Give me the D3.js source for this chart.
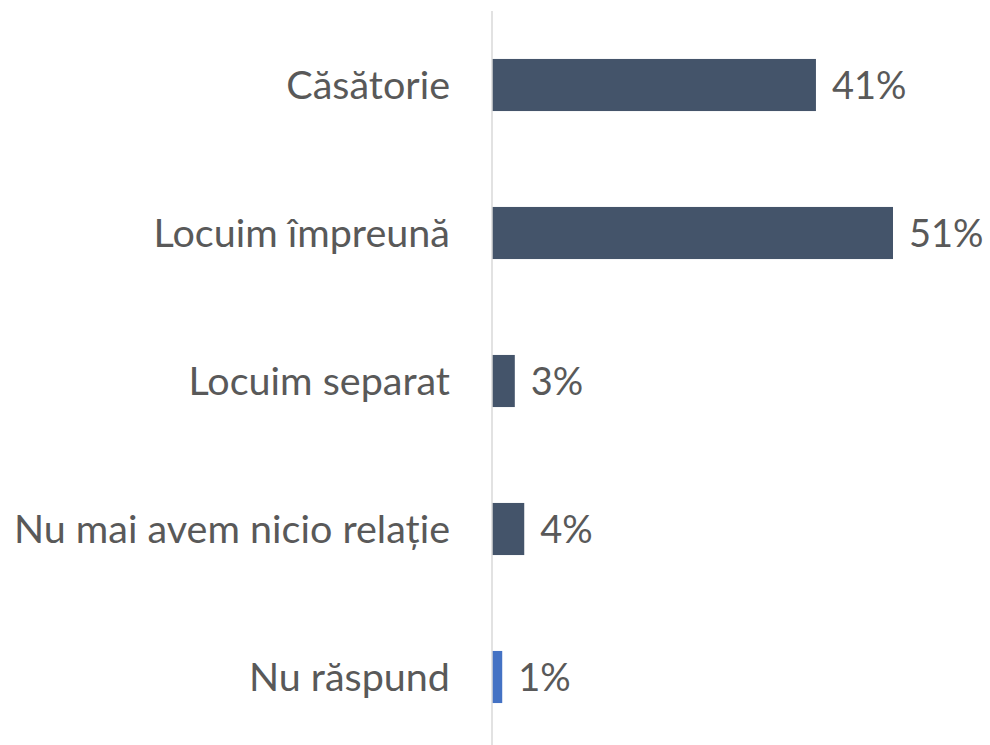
<!DOCTYPE html>
<html>
<head>
<meta charset="utf-8">
<script src="https://cdn.jsdelivr.net/npm/d3@7"></script>
<style>
  body { margin: 0; background: #ffffff; }
  svg { display: block; }
  .label { font-family: Lato, "Open Sans", sans-serif; fill: #595959; }
</style>
</head>
<body>
<svg id="barChart"></svg>
<script>
// categories, top to bottom
var categories = ["Căsătorie", "Locuim împreună", "Locuim separat", "Nu mai avem nicio relație", "Nu răspund"];
// shares (percent)
var values = [41.2, 51.0, 2.9, 4.1, 1.3];
// labels printed next to the bars
var valueLabels = ["41%", "51%", "3%", "4%", "1%"];
var barColors = ["#44546A", "#44546A", "#44546A", "#44546A", "#4472C4"];

var screen = {width: 990, height: 745};
var margins = {left: 492, top: 11, right: 0, bottom: -6};

var graph = {
    width: screen.width - margins.left - margins.right,
    height: screen.height - margins.top - margins.bottom
};

var svg = d3.select("svg#barChart")
    .attr("width", screen.width)
    .attr("height", screen.height);

var xScale = d3.scaleLinear()
    .domain([0, 51])
    .range([0, 401]);

var yScale = d3.scaleBand()
    .domain(categories)
    .range([0, graph.height])
    .paddingInner(0.648)
    .paddingOuter(0.324);

var g = svg.append("g")
    .attr("transform", "translate(" + margins.left + "," + margins.top + ")");

var rows = categories.map(function(c, i) {
    return {name: c, value: values[i], label: valueLabels[i], color: barColors[i]};
});

// bars
g.selectAll("rect")
    .data(rows)
    .enter()
    .append("rect")
    .attr("x", 0)
    .attr("y", function(d) { return yScale(d.name); })
    .attr("width", function(d) { return xScale(d.value); })
    .attr("height", yScale.bandwidth())
    .attr("fill", function(d) { return d.color; });

// vertical axis line with category names
var yAxis = d3.axisLeft(yScale).tickSize(0).tickPadding(42);
var axis = g.append("g").call(yAxis);
axis.select(".domain")
    .attr("d", "M0,0V" + graph.height)
    .attr("stroke", "#d9d9d9")
    .attr("stroke-width", 1.5);
axis.selectAll("text")
    .classed("label", true)
    .attr("fill", "#595959")
    .attr("dy", "0.36em")
    .style("font-family", "Lato, 'Open Sans', sans-serif")
    .style("font-size", "39.5px");

// value labels
g.selectAll("text.value")
    .data(rows)
    .enter()
    .append("text")
    .classed("label value", true)
    .attr("x", function(d) { return xScale(d.value) + 16; })
    .attr("y", function(d) { return yScale(d.name) + yScale.bandwidth() / 2; })
    .attr("dy", "0.36em")
    .style("font-size", "38px")
    .text(function(d) { return d.label; });
</script>
</body>
</html>
